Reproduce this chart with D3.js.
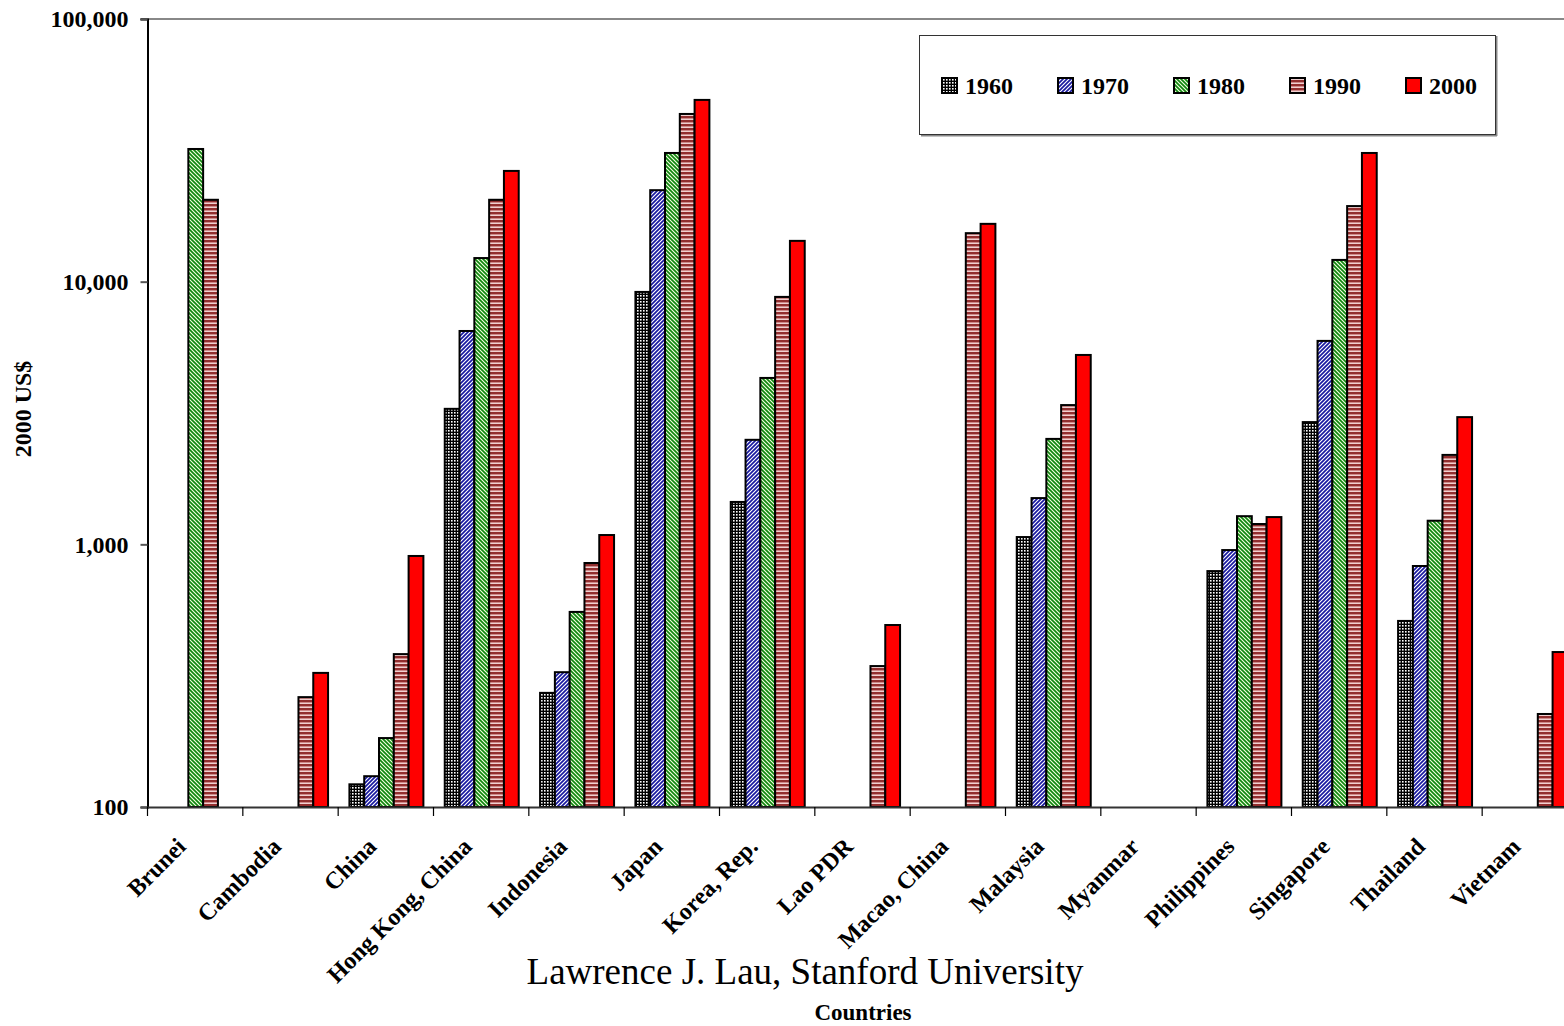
<!DOCTYPE html>
<html>
<head>
<meta charset="utf-8">
<script src="https://cdn.jsdelivr.net/npm/d3@7/dist/d3.min.js"></script>
<style>
  html, body { margin: 0; padding: 0; background: #fff; overflow: hidden; }
  svg { display: block; font-family: "Liberation Serif", "Times New Roman", serif; }
</style>
</head>
<body>
<svg id="chart" width="1564" height="1026"></svg>
<script>
// GDP per capita (2000 US$), East Asian economies, 1960-2000
const categories = ["Brunei", "Cambodia", "China", "Hong Kong, China", "Indonesia", "Japan",
  "Korea, Rep.", "Lao PDR", "Macao, China", "Malaysia", "Myanmar", "Philippines",
  "Singapore", "Thailand", "Vietnam"];
const years = ["1960", "1970", "1980", "1990", "2000"];

const v1960 = [null, null, 122, 3280, 272, 9140, 1450, null, null, 1066, null, 791, 2920, 511, null];
const v1970 = [null, null, 131, 6490, 326, 22300, 2500, null, null, 1500, null, 951, 5950, 827, null];
const v1980 = [32000, null, 183, 12300, 553, 30900, 4300, null, null, 2520, null, 1280, 12100, 1230, null];
const v1990 = [20500, 262, 382, 20500, 849, 43500, 8750, 344, 15300, 3390, null, 1195, 19400, 2190, 226];
const v2000 = [null, 324, 903, 26400, 1085, 49200, 14300, 493, 16600, 5260, null, 1270, 30900, 3050, 389];

const yTicks = [100, 1000, 10000, 100000];

const seriesValues = [v1960, v1970, v1980, v1990, v2000];
const rows = [];
categories.forEach((c, i) => {
  years.forEach((yr, j) => {
    const v = seriesValues[j][i];
    if (v != null) rows.push({ country: c, year: yr, value: v });
  });
});

const svg = d3.select("#chart");
const plotLeft = 147.5, plotRight = 1577.5, plotTop = 19, plotBottom = 807;

const x0 = d3.scaleBand().domain(categories).range([plotLeft, plotRight]).padding(0);
const bw = x0.bandwidth();
const x1 = d3.scaleBand().domain(years).range([bw * 0.118, bw * 0.894]).padding(0);
const y = d3.scaleLog().domain([100, 100000]).range([plotBottom, plotTop]);

// Fill patterns for each year
const defs = svg.append("defs");
// 1960: black grid with white dots
const p60 = defs.append("pattern").attr("id", "p1960").attr("patternUnits", "userSpaceOnUse")
  .attr("width", 3).attr("height", 3);
p60.append("rect").attr("width", 3).attr("height", 3).attr("fill", "#000");
p60.append("rect").attr("x", 1).attr("y", 1).attr("width", 1.6).attr("height", 1.6).attr("fill", "#fff");
// 1970: blue diagonal stripes
const p70 = defs.append("pattern").attr("id", "p1970").attr("patternUnits", "userSpaceOnUse")
  .attr("width", 4).attr("height", 4);
p70.append("rect").attr("width", 4).attr("height", 4).attr("fill", "#fff");
p70.append("path").attr("d", "M-1,1 L1,-1 M0,4 L4,0 M3,5 L5,3")
  .attr("stroke", "#1818a0").attr("stroke-width", 1.7);
// 1980: green diagonal stripes
const p80 = defs.append("pattern").attr("id", "p1980").attr("patternUnits", "userSpaceOnUse")
  .attr("width", 4).attr("height", 4);
p80.append("rect").attr("width", 4).attr("height", 4).attr("fill", "#f4ffe0");
p80.append("path").attr("d", "M-1,3 L1,5 M0,0 L4,4 M3,-1 L5,1")
  .attr("stroke", "#0f860f").attr("stroke-width", 1.7);
// 1990: dark red horizontal stripes
const p90 = defs.append("pattern").attr("id", "p1990").attr("patternUnits", "userSpaceOnUse")
  .attr("width", 4).attr("height", 4);
p90.append("rect").attr("width", 4).attr("height", 4).attr("fill", "#f0d0d0");
p90.append("rect").attr("y", 0).attr("width", 4).attr("height", 2).attr("fill", "#922e2e");
p90.append("rect").attr("y", 2).attr("width", 4).attr("height", 0.7).attr("fill", "#c06a6a");

const fills = { "1960": "url(#p1960)", "1970": "url(#p1970)", "1980": "url(#p1980)",
  "1990": "url(#p1990)", "2000": "#ff0000" };

// Plot area top border
svg.append("line").attr("x1", plotLeft - 7).attr("x2", 1564).attr("y1", plotTop).attr("y2", plotTop)
  .attr("stroke", "#888").attr("stroke-width", 2);

// Bars
svg.append("g").selectAll("rect").data(rows).join("rect")
  .attr("x", d => x0(d.country) + x1(d.year))
  .attr("y", d => y(d.value))
  .attr("width", x1.bandwidth())
  .attr("height", d => plotBottom - y(d.value))
  .attr("fill", d => fills[d.year])
  .attr("stroke", "#000")
  .attr("stroke-width", 2);

// Y axis
const yAxis = d3.axisLeft(y).tickValues(yTicks).tickFormat(d3.format(","))
  .tickSizeOuter(0).tickSize(7).tickPadding(12);
const gy = svg.append("g").attr("transform", `translate(${plotLeft},0)`).call(yAxis);
gy.select(".domain").attr("stroke", "#000").attr("stroke-width", 2);
gy.selectAll(".tick line").attr("stroke", "#555").attr("stroke-width", 2);
gy.selectAll(".tick text").attr("font-size", 24).attr("font-weight", "bold")
  .attr("font-family", "Liberation Serif").attr("fill", "#000");

// X axis
const xAxis = d3.axisBottom(x0).tickSize(0).tickFormat("");
const gx = svg.append("g").attr("transform", `translate(0,${plotBottom})`).call(xAxis);
gx.select(".domain").attr("stroke", "#333").attr("stroke-width", 2);
// category boundary ticks
svg.append("g").selectAll("line").data(categories).join("line")
  .attr("x1", d => x0(d)).attr("x2", d => x0(d))
  .attr("y1", plotBottom).attr("y2", plotBottom + 9)
  .attr("stroke", "#000").attr("stroke-width", 1.2);
// rotated category labels
svg.append("g").selectAll("text").data(categories).join("text")
  .attr("transform", d => `translate(${x0(d) + bw / 2 - 8},${plotBottom + 41}) rotate(-45)`)
  .attr("text-anchor", "end")
  .attr("font-size", 24).attr("font-weight", "bold").attr("fill", "#000")
  .text(d => d);

// Axis titles
svg.append("text").attr("transform", "translate(31,409) rotate(-90)")
  .attr("text-anchor", "middle").attr("font-size", 24).attr("font-weight", "bold")
  .text("2000 US$");
svg.append("text").attr("x", 863).attr("y", 1020).attr("text-anchor", "middle")
  .attr("font-size", 23).attr("font-weight", "bold").text("Countries");
svg.append("text").attr("x", 805).attr("y", 984).attr("text-anchor", "middle")
  .attr("font-size", 37).text("Lawrence J. Lau, Stanford University");

// Legend
const lg = svg.append("g");
lg.append("line").attr("x1", 921).attr("x2", 1497).attr("y1", 135.5).attr("y2", 135.5)
  .attr("stroke", "#888").attr("stroke-width", 2);
lg.append("line").attr("x1", 1496.5).attr("x2", 1496.5).attr("y1", 36).attr("y2", 136)
  .attr("stroke", "#888").attr("stroke-width", 2);
lg.append("rect").attr("x", 919.5).attr("y", 35.5).attr("width", 576).attr("height", 99)
  .attr("fill", "#fff").attr("stroke", "#333").attr("stroke-width", 1);
const items = lg.selectAll("g.item").data(years).join("g").attr("class", "item")
  .attr("transform", (d, i) => `translate(${942 + i * 116},0)`);
items.append("rect").attr("x", 0).attr("y", 78).attr("width", 15).attr("height", 15)
  .attr("fill", d => fills[d]).attr("stroke", "#000").attr("stroke-width", 2);
items.append("text").attr("x", 23).attr("y", 94).attr("font-size", 24).attr("font-weight", "bold")
  .text(d => d);
</script>
</body>
</html>
